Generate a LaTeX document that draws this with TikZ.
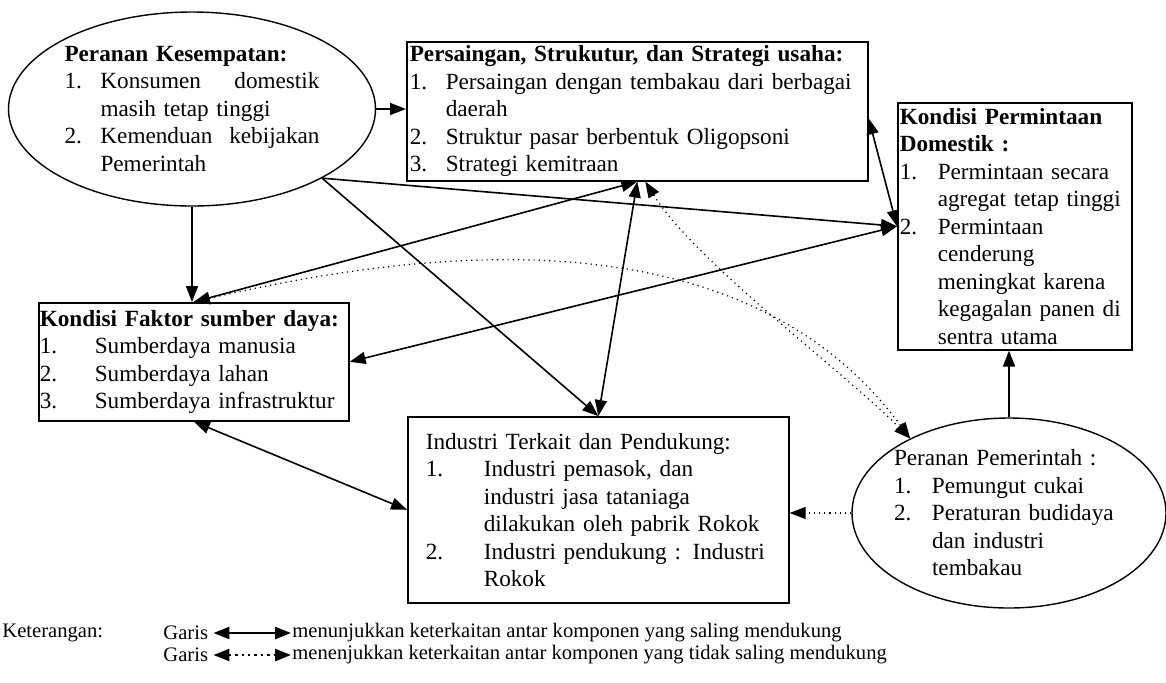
\documentclass[tikz,border=0pt]{standalone}
\usepackage{fontspec}
\setmainfont{Liberation Serif}
\usetikzlibrary{shapes.geometric,arrows.meta,calc}
\hyphenpenalty=10000
\newcommand{\butir}[3]{\par\hangindent=#1\hangafter=1\noindent\makebox[#1][l]{#2}#3\par}

\begin{document}
\begin{tikzpicture}[x=0.5pt,y=-0.5pt,
	>={Triangle[length=8pt,width=6pt]},
	every node/.style={font=\fontsize{11.6}{13.75}\selectfont},
	kotak/.style={draw,line width=0.8pt,align=left,anchor=north west,inner ysep=0pt},
	elips/.style={draw,ellipse,line width=0.7pt,align=left,inner sep=0pt},
	garis/.style={line width=0.8pt},
	putus/.style={dotted,line width=0.6pt},
	ket/.style={anchor=west,inner sep=0pt,font=\fontsize{10.3}{11}\selectfont}]
	\useasboundingbox (0,0) rectangle (1166,682);
	% komponen
	\node[elips,minimum width=183.5pt,minimum height=97pt,text width=127.5pt] (kesempatan) at (192,109) {\textbf{Peranan Kesempatan:}\par
		\butir{18pt}{1.}{Konsumen\hfill domestik\newline masih tetap tinggi}
		\butir{18pt}{2.}{Kemenduan\hfill kebijakan\newline Pemerintah}};
	\node[kotak,text width=227.5pt,inner xsep=1.5pt,minimum height=69.5pt] (persaingan) at (406,41) {\textbf{Persaingan, Strukutur, dan Strategi usaha:}\par
		\butir{18pt}{1.}{Persaingan dengan tembakau dari berbagai\newline daerah}
		\butir{18pt}{2.}{Struktur pasar berbentuk Oligopsoni}
		\butir{18pt}{3.}{Strategi kemitraan}};
	\node[kotak,text width=115pt,inner xsep=1pt,minimum height=123.5pt] (permintaan) at (897,102) {\textbf{Kondisi Permintaan\newline Domestik :}\par
		\butir{19pt}{1.}{Permintaan secara\newline agregat tetap tinggi}
		\butir{19pt}{2.}{Permintaan\newline cenderung\newline meningkat karena\newline kegagalan panen di\newline sentra utama}};
	\node[kotak,text width=154pt,inner xsep=0.5pt,minimum height=59pt] (faktor) at (38,302) {\textbf{Kondisi Faktor sumber daya:}\par
		\butir{27.5pt}{1.}{Sumberdaya manusia}
		\butir{27.5pt}{2.}{Sumberdaya lahan}
		\butir{27.5pt}{3.}{Sumberdaya infrastruktur}};
	\node[kotak,text width=172.5pt,inner xsep=9pt,minimum height=93pt] (industri) at (407,416) {Industri Terkait dan Pendukung:\par
		\butir{29pt}{1.}{Industri pemasok, dan\newline industri jasa tataniaga\newline dilakukan oleh pabrik Rokok}
		\butir{29pt}{2.}{Industri pendukung : Industri\newline Rokok}};
	\node[elips,minimum width=157pt,minimum height=95pt,text width=115pt,inner xsep=-2pt] (pemerintah) at (1009,513) {Peranan Pemerintah :\par
		\butir{19pt}{1.}{Pemungut cukai}
		\butir{19pt}{2.}{Peraturan budidaya\newline dan industri\newline tembakau}};
	% hubungan
	\draw[garis,->] (kesempatan.east) -- (kesempatan.east -| persaingan.west);
	\draw[garis,->] (kesempatan.south) -- (kesempatan.south |- faktor.north);
	\draw[garis,->] (kesempatan.-28) -- (permintaan.west);
	\draw[garis,->] (kesempatan.-28) -- (industri.north);
	\draw[garis,<->] (faktor.north) -- (persaingan.south);
	\draw[garis,<->] (persaingan.south) -- (industri.north);
	\draw[garis,<->] ($(persaingan.north east)!0.55!(persaingan.south east)$) -- (permintaan.west);
	\draw[garis,<->] (faktor.east) -- (permintaan.west);
	\draw[garis,<->] (faktor.south) -- (industri.west);
	\draw[garis,->] (pemerintah.north) -- (pemerintah.north |- permintaan.south);
	\draw[putus,->] (pemerintah.west) -- (pemerintah.west -| industri.east);
	\draw[putus,<->] (faktor.north) .. controls +(266,-62) and +(-158,-215) .. (pemerintah.143);
	\draw[putus,<->] ($(persaingan.south)+(8,0)$) .. controls +(50,80) and +(-70,-70) .. (pemerintah.143);
	% keterangan
	\node[ket] (keterangan) at (2,633) {Keterangan:};
	\node[ket] (garis1) at (163,633) {Garis};
	\node[ket] (arti1) at (292,633) {menunjukkan keterkaitan antar komponen yang saling mendukung};
	\node[ket] (garis2) at (163,655) {Garis};
	\node[ket] (arti2) at (292,655) {menenjukkan keterkaitan antar komponen yang tidak saling mendukung};
	\draw[line width=1.2pt,<->] ([xshift=2.5pt]garis1.east) -- ([xshift=-0.5pt]arti1.west);
	\draw[putus,line width=1.2pt,<->] ([xshift=2.5pt]garis2.east) -- ([xshift=-0.5pt]arti2.west);
\end{tikzpicture}
\end{document}
